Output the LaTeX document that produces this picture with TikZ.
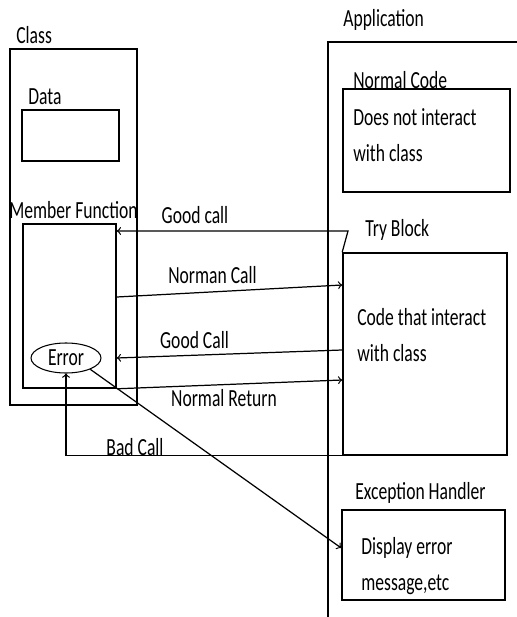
\documentclass[tikz,border=0pt]{standalone}
\usepackage{fontspec}
\setmainfont{Carlito}
\usetikzlibrary{shapes.geometric}
\tikzset{
  box/.style={draw, line width=0.9pt, inner sep=0pt},
  lbl/.style={font=\fontsize{10}{12}\selectfont, inner sep=0pt, yscale=1.4, transform shape},
  txt/.style={font=\fontsize{10}{14.6}\selectfont, align=left, inner sep=0pt, anchor=west, yscale=1.4, transform shape},
  conn/.style={line width=0.7pt, ->, >=to},
}
\begin{document}
\begin{tikzpicture}
  \useasboundingbox (0,0) rectangle (10.34,12.34);
  % class side
  \node (classlbl) [lbl, anchor=west] at (0.32,11.64) {Class};
  \node (class) [box, minimum width=2.54cm, minimum height=7.12cm] at (1.47,7.80) {};
  \node (datalbl) [lbl, anchor=west] at (0.56,10.40) {Data};
  \node (data) [box, minimum width=1.94cm, minimum height=1.02cm] at (1.41,9.63) {};
  \node (mflbl) [lbl] at (1.47,8.14) {Member Function};
  \node (mf) [box, minimum width=1.86cm, minimum height=3.28cm] at (1.39,6.22) {};
  \node (err) [ellipse, draw, line width=0.6pt, minimum width=1.4cm, minimum height=0.6cm, inner sep=0pt] at (1.32,5.18) {};
  \node (errlbl) [lbl] at (err) {Error};
  % application side
  \node (applbl) [lbl, anchor=west] at (6.86,11.94) {Application};
  \draw [line width=0.9pt] (6.56,-0.1) |- (10.5,11.5);
  \node (normlbl) [lbl, anchor=west] at (7.06,10.74) {Normal Code};
  \node (norm) [box, minimum width=3.34cm, minimum height=2.06cm] at (8.53,9.53) {};
  \node (normtxt) [txt] at (7.06,9.64) {Does not interact\\with class};
  \node (trylbl) [lbl, anchor=west] at (7.30,7.74) {Try Block};
  \node (try) [box, minimum width=3.28cm, minimum height=4.04cm] at (8.50,5.26) {};
  \node (trytxt) [txt] at (7.14,5.64) {Code that interact\\with class};
  \node (exclbl) [lbl, anchor=west] at (7.10,2.48) {Exception Handler};
  \node (exc) [box, minimum width=3.26cm, minimum height=1.80cm] at (8.47,1.24) {};
  \node (exctxt) [txt] at (7.22,1.02) {Display error\\message,etc};
  % calls
  \coordinate (gc1) at (6.96,7.72);
  \draw [conn] (try.north west) -- (gc1) -- (gc1 -| mf.east);
  \node (gc1lbl) [lbl] at (3.90,8.04) {Good call};
  \draw [conn] (mf.east |- 0,6.40) -- (try.west |- 0,6.64);
  \node (nclbl) [lbl] at (4.25,6.84) {Norman Call};
  \draw [conn] (try.west |- 0,5.34) -- (mf.east |- 0,5.18);
  \node (gc2lbl) [lbl] at (3.89,5.54) {Good Call};
  \draw [conn] (mf.south east) -- (try.west |- 0,4.74);
  \node (nrlbl) [lbl] at (4.48,4.38) {Normal Return};
  \draw [conn] (try.south west) -| (err.south);
  \node (bclbl) [lbl] at (2.70,3.40) {Bad Call};
  \draw [conn] (err.-25) -- (exc.west |- 0,1.38);
\end{tikzpicture}
\end{document}
